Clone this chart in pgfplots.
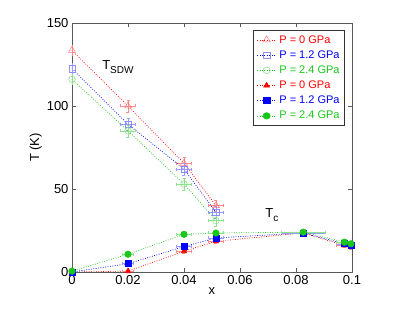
\documentclass[border=0pt]{standalone}
\usepackage{fontspec}
\setmainfont{Liberation Sans}
\usepackage{pgfplots}
\pgfplotsset{compat=1.18}

\definecolor{mred}{rgb}{1,0,0}
\definecolor{mblue}{rgb}{0,0,1}
\definecolor{mgreen}{rgb}{0.1,0.78,0.1}

% x  T  ex  eT
\pgfplotstableread{
x      y     ex     ey
0      133.5 0      3
0.02   100   0.0027 3.5
0.04   65.5  0.0027 3.5
0.0514 40    0.0027 3.5
}\sdwA
\pgfplotstableread{
x      y     ex     ey
0      122.5 0      3
0.02   89    0.0027 3.5
0.04   62    0.0027 3.5
0.0514 36    0.0027 3.5
}\sdwB
\pgfplotstableread{
x      y     ex     ey
0      116   0      3
0.02   85    0.0027 3.5
0.04   53    0.0027 3.5
0.0514 31    0.0027 3.5
}\sdwC
\pgfplotstableread{
x      y     ex     ey
0      0     0      0
0.02   0.5   0.002  1
0.04   12.5  0.0027 1
0.0514 18.5  0.0027 1
0.0826 23.5  0.0078 1
0.0973 16    0.003  1
0.0996 15    0.001  1
}\tcA
\pgfplotstableread{
x      y     ex     ey
0      0     0      0
0.02   5     0.002  1
0.04   15.3  0.0027 1
0.0514 20.5  0.0027 1
0.0826 23.5  0.0078 1
0.0973 17    0.003  1
0.0996 16    0.001  1
}\tcB
\pgfplotstableread{
x      y     ex     ey
0      0.5   0      0
0.02   10.7  0.002  1
0.04   22.7  0.0027 1
0.0514 23.5  0.0027 1
0.0826 24    0.0078 1
0.0973 18    0.003  1
0.0996 17    0.001  1
}\tcC

\begin{document}
\begin{tikzpicture}
\begin{axis}[
  scale only axis,
  width=280pt, height=249pt,
  xmin=0, xmax=0.1, ymin=0, ymax=150,
  xtick={0,0.02,0.04,0.06,0.08,0.1},
  ytick={0,50,100,150},
  xticklabels={0,0.02,0.04,0.06,0.08,0.1},
  tick align=inside,
  major tick length=4pt,
  tick style={gray!70!black},
  axis line style={gray!70!black, line width=0.6pt},
  ticklabel style={font=\fontsize{13}{15}\selectfont},
  /pgf/number format/assume math mode=true,
  scaled x ticks=false,
  xlabel={x}, ylabel={T (K)},
  label style={font=\fontsize{13}{15}\selectfont},
  xlabel style={yshift=4pt},
  ylabel style={yshift=-2pt},
  legend style={at={(0.975,0.972)}, anchor=north east,
    draw=gray!40!black, line width=0.8pt, font=\fontsize{11}{13}\selectfont,
    row sep=2pt, inner sep=3pt},
  legend cell align=left,
  legend image post style={xscale=1.1},
  every axis plot/.append style={dash pattern=on 0.8pt off 1.6pt, line width=0.7pt},
  error bars/error bar style={solid, line width=0.5pt},
  error bars/error mark options={rotate=90, mark size=1.5pt, solid},
]
\addplot[mred, mark=triangle, mark size=4pt,
  mark options={solid, draw=mred!55, line width=0.5pt},
  error bars/.cd, x dir=both, x explicit, y dir=both, y explicit,
  error bar style={mred!45}]
  table[x=x, y=y, x error=ex, y error=ey] {\sdwA};
\addlegendentry{\hspace{1pt}\textcolor{mred}{P = 0 GPa}}
\addplot[mblue, mark=square, mark size=3.2pt,
  mark options={solid, draw=mblue!45, line width=0.5pt},
  error bars/.cd, x dir=both, x explicit, y dir=both, y explicit,
  error bar style={mblue!40}]
  table[x=x, y=y, x error=ex, y error=ey] {\sdwB};
\addlegendentry{\hspace{1pt}\textcolor{mblue}{P = 1.2 GPa}}
\addplot[mgreen, mark=o, mark size=3.3pt,
  mark options={solid, draw=mgreen!55, line width=0.5pt},
  error bars/.cd, x dir=both, x explicit, y dir=both, y explicit,
  error bar style={mgreen!50}]
  table[x=x, y=y, x error=ex, y error=ey] {\sdwC};
\addlegendentry{\hspace{1pt}\textcolor{mgreen}{P = 2.4 GPa}}
\addplot[mred, mark=triangle*, mark size=3pt,
  mark options={solid, fill=mred},
  error bars/.cd, x dir=both, x explicit, y dir=both, y explicit,
  error bar style={mred!45}]
  table[x=x, y=y, x error=ex, y error=ey] {\tcA};
\addlegendentry{\hspace{1pt}\textcolor{mred}{P = 0 GPa}}
\addplot[mblue, mark=square*, mark size=3pt,
  mark options={solid, fill=mblue},
  error bars/.cd, x dir=both, x explicit, y dir=both, y explicit,
  error bar style={mblue!40}]
  table[x=x, y=y, x error=ex, y error=ey] {\tcB};
\addlegendentry{\hspace{1pt}\textcolor{mblue}{P = 1.2 GPa}}
\addplot[mgreen, mark=*, mark size=3.2pt,
  mark options={solid, fill=mgreen},
  error bars/.cd, x dir=both, x explicit, y dir=both, y explicit,
  error bar style={mgreen!50}]
  table[x=x, y=y, x error=ex, y error=ey] {\tcC};
\addlegendentry{\hspace{1pt}\textcolor{mgreen}{P = 2.4 GPa}}
\node[font=\fontsize{13}{15}\selectfont] at (axis cs:0.0164,123.5)
  {T\raisebox{-0.6ex}{\fontsize{10}{12}\selectfont SDW}};
\node[font=\fontsize{13}{15}\selectfont] at (axis cs:0.0714,34.3)
  {T\raisebox{-0.6ex}{\fontsize{10}{12}\selectfont c}};
\coordinate (o) at (rel axis cs:0,0);
\end{axis}
\path[use as bounding box] ([shift={(-72pt,-49pt)}]o) rectangle ++(415pt,321pt);
\end{tikzpicture}
\end{document}
